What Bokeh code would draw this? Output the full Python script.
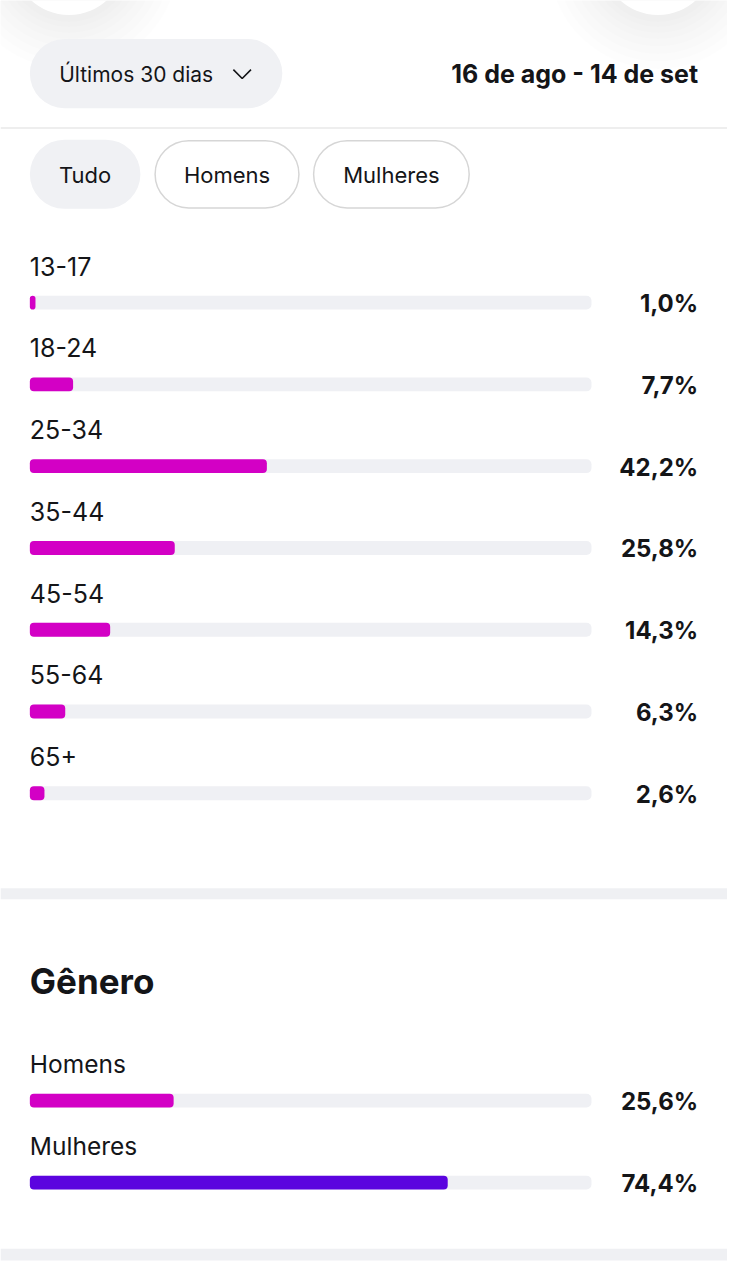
from bokeh.plotting import figure
from bokeh.models import Range1d
from bokeh.core.properties import value
from bokeh.embed import file_html
from bokeh.resources import INLINE

# ---- data ----
ages = ["13-17", "18-24", "25-34", "35-44", "45-54", "55-64", "65+"]
age_pct = [1.0, 7.7, 42.2, 25.8, 14.3, 6.3, 2.6]
genders = ["Homens", "Mulheres"]
gender_pct = [25.6, 74.4]
filters = ["Tudo", "Homens", "Mulheres"]
period_label = "Últimos 30 dias"
date_range = "16 de ago - 14 de set"
gender_title = "Gênero"

MAGENTA = "#d300c5"
PURPLE = "#5b04df"
TRACK = "#eff0f4"
INK = "#141518"
FONT = value("Inter")

# layout: x data units are percent of the track; track spans page px 30..604
TRACK_L, TRACK_R = 30, 604
PX_PER_PCT = (TRACK_R - TRACK_L) / 100.0
def px(X):
    return (X - TRACK_L) / PX_PER_PCT

W, H = 727, 1264
p = figure(width=W, height=H, output_backend="svg", toolbar_location=None,
           x_range=Range1d(px(0), px(743)), y_range=Range1d(1280, 0),
           min_border=0, outline_line_color=None, background_fill_color="white",
           border_fill_color="white")
p.axis.visible = False
p.grid.visible = False

# soft top shadows of round buttons (mostly off screen)
shadow_sizes = [220, 205, 190, 175, 160, 148, 136, 126]
for cx in (70, 672):
    for r in shadow_sizes:
        p.ellipse(x=[px(cx)], y=[-42], width=r, height=r, width_units="screen",
                  height_units="screen", fill_color="#000000", fill_alpha=0.007,
                  line_color=None)
    p.ellipse(x=[px(cx)], y=[-42], width=112, height=112, width_units="screen",
              height_units="screen", fill_color="white", line_color=None)

# period pill
p.quad(left=[px(30)], right=[px(288)], top=[39], bottom=[109], fill_color="#f0f1f4",
       line_color=None, border_radius=35)
p.text(x=[px(60)], y=[75], text=[period_label], text_font=FONT, text_font_size="21px",
       text_color=INK, text_baseline="middle", text_align="left")
p.line(x=[px(238), px(247), px(256)], y=[70, 79, 70], line_color=INK, line_width=1.6)
p.text(x=[px(713)], y=[74], text=[date_range], text_font=FONT, text_font_size="25px",
       text_font_style="bold", text_color=INK, text_baseline="middle", text_align="right")

# separator
p.line(x=[px(0), px(743)], y=[129, 129], line_color="#eeeeee", line_width=2)

# filter pills
pill_l = [30, 158, 320]
pill_r = [143, 305, 479]
p.quad(left=[px(pill_l[0])], right=[px(pill_r[0])], top=[141], bottom=[211],
       fill_color="#f0f1f4", line_color=None, border_radius=35)
p.quad(left=[px(v) for v in pill_l[1:]], right=[px(v) for v in pill_r[1:]],
       top=[142, 142], bottom=[210, 210], fill_color="white", line_color="#d6d6d6",
       line_width=1.5, border_radius=34)
p.text(x=[px((a + b) / 2) for a, b in zip(pill_l, pill_r)], y=[177] * 3, text=filters,
       text_font=FONT, text_font_size="22px", text_color=INK, text_baseline="middle",
       text_align="center")

# age bars
age_y = [306 + i * 82.8 for i in range(len(ages))]
p.hbar(y=age_y, left=0, right=100, height=14, fill_color=TRACK, line_color=None,
       border_radius=5)
p.hbar(y=age_y, left=0, right=age_pct, height=14, fill_color=MAGENTA, line_color=None,
       border_radius=4)
p.text(x=[0] * len(ages), y=[v - 37 for v in age_y], text=ages, text_font=FONT,
       text_font_size="25px", text_color=INK, text_baseline="middle", text_align="left")
p.text(x=[px(713)] * len(ages), y=[v + 1 for v in age_y],
       text=[f"{v:.1f}%".replace(".", ",") for v in age_pct], text_font=FONT,
       text_font_size="24px", text_font_style="bold", text_color=INK,
       text_baseline="middle", text_align="right")

# section band
p.quad(left=[px(0)], right=[px(743)], top=[899], bottom=[910], fill_color="#eff0f3",
       line_color=None)

# gender
p.text(x=[0], y=[993], text=[gender_title], text_font=FONT, text_font_size="35px",
       text_font_style="bold", text_color=INK, text_baseline="middle", text_align="left")
g_y = [1114, 1197]
p.hbar(y=g_y, left=0, right=100, height=14, fill_color=TRACK, line_color=None,
       border_radius=5)
p.hbar(y=g_y, left=0, right=gender_pct, height=14, fill_color=[MAGENTA, PURPLE],
       line_color=None, border_radius=4)
p.text(x=[0, 0], y=[v - 37 for v in g_y], text=genders, text_font=FONT,
       text_font_size="24.5px", text_color=INK, text_baseline="middle", text_align="left")
p.text(x=[px(713)] * 2, y=[v + 1 for v in g_y],
       text=[f"{v:.1f}%".replace(".", ",") for v in gender_pct], text_font=FONT,
       text_font_size="24px", text_font_style="bold", text_color=INK,
       text_baseline="middle", text_align="right")

p.quad(left=[px(0)], right=[px(743)], top=[1264], bottom=[1276], fill_color="#eff0f3",
       line_color=None)

open("out.html", "w").write(file_html(p, INLINE))
